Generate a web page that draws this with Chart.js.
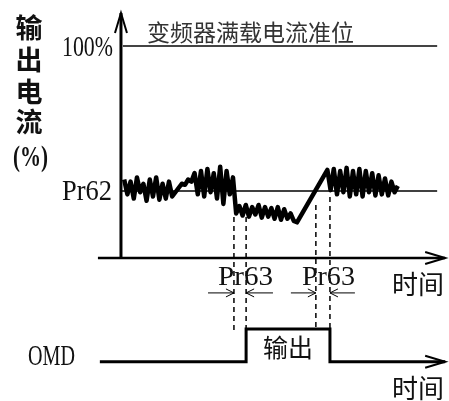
<!DOCTYPE html>
<html><head><meta charset="utf-8">
<script src="https://cdn.jsdelivr.net/npm/chart.js@4/dist/chart.umd.min.js"></script>
<style>html,body{margin:0;padding:0;background:#fff;}canvas{display:block;}</style>
</head><body>
<canvas id="c" width="449" height="401"></canvas>
<script>
// ---- data ----
const waveTime = [1,2,3,4,5,6,7,8,9,10,11,12,13,14,15,16,17,18,19,20,21,22,23,24,25,26,27,28,29,30,31,32,33,34,35,
  36,37,38,39,40,41,42,43,44,45,46,47,48,49,50,51,52,53,54,55,
  64.5,
  65.5,66.5,67.5,68.5,69.5,70.5,71.5,72.5,73.5,74.5,75.5,76.5,77.5,78.5,79.5,80.5,81.5,82.5,83.5,84.5,85.5,86.5];
const wavePct = [37,30,36,28,38,31,35,27,37,29,38,27.5,35,28,36,29,31,33,35,34.5,37,36,40,30,41,29,42,31,40,28,43,25.5,41,30,38,
  21,24.5,20,25,19.5,24,20.5,25,19,24,19.5,23.5,18.5,24,18,23,18.5,21,17.5,16.8,
  41.5,
  32,42,30,41,31,42.5,29,41,30,42,29,41,31,40,29.5,39,30,37.5,29.5,36,31,34];
const levelNames = ['100%', 'Pr62'];
const levelPct = [100, 31.6];
const levelLabelText = '变频器满载电流准位';
const eventTimes = [35.3, 39.1, 60.9, 65.3];   // detect drop, OMD on, recover, OMD off
const eventTopPct = [19.3, 19.3, 25, 28.8];
const omdTime = [-6.6, 39.1, 39.1, 65.3, 65.3, 101.3];
const omdState = [0, 0, 1, 1, 0, 0];
const yTitleChars = ['输', '出', '电', '流'];
const yUnit = '(%)';
const timeLabel = '时间';
const delayLabel = 'Pr63';
const signalName = 'OMD';
const outputText = '输出';

// ---- layout constants (in scale units) ----
const OMD_LOW = -49, OMD_HIGH = -33.5;
const AXIS_START = -7.2, AXIS_END = 101.3, Y_AXIS_TOP = 115.6;

const wavePts = waveTime.map((t, i) => ({x: t, y: wavePct[i]}));
const levelSets = levelPct.map((v, i) => ({
  data: [{x: i === 0 ? 0.6 : 0, y: v}, {x: 98.8, y: v}],
  borderColor: i === 0 ? '#444' : '#000', borderWidth: i === 0 ? 2 : 1.5,
  pointRadius: 0, order: 2
}));
const omdPts = omdTime.map((t, i) => ({x: t, y: omdState[i] ? OMD_HIGH : OMD_LOW}));

function fitText(ctx, text, x, y, font, width, align) {
  ctx.save();
  ctx.font = font;
  const w = ctx.measureText(text).width;
  const s = width / w;
  let left = align === 'right' ? x - width : (align === 'center' ? x - width / 2 : x);
  ctx.translate(left, y);
  ctx.scale(s, 1);
  ctx.textAlign = 'left';
  ctx.fillText(text, 0, 0);
  ctx.restore();
}

const diagram = {
  id: 'diagram',
  beforeDatasetsDraw(chart) {
    const ctx = chart.ctx;
    const sx = chart.scales.x, sy = chart.scales.y;
    const X = v => sx.getPixelForValue(v), Y = v => sy.getPixelForValue(v);
    const line = (x1, y1, x2, y2) => { ctx.beginPath(); ctx.moveTo(x1, y1); ctx.lineTo(x2, y2); ctx.stroke(); };
    ctx.save();
    ctx.strokeStyle = '#000'; ctx.fillStyle = '#111';
    // dashed event markers
    ctx.setLineDash([5, 4]); ctx.lineWidth = 1.5;
    eventTimes.forEach((t, i) => line(X(t), Y(eventTopPct[i]), X(t), Y(-34)));
    ctx.setLineDash([]);
    // time axis
    ctx.lineWidth = 2.5;
    line(X(AXIS_START), Y(0), X(AXIS_END), Y(0));
    // current axis
    ctx.lineWidth = 3;
    line(X(0), Y(0), X(0), Y(Y_AXIS_TOP));
    // arrowheads
    ctx.lineWidth = 2; ctx.lineJoin = 'miter';
    const headR = (xt, yt) => { ctx.beginPath(); ctx.moveTo(xt - 20, yt - 6); ctx.lineTo(xt, yt); ctx.lineTo(xt - 20, yt + 6); ctx.stroke(); };
    headR(X(AXIS_END), Y(0));
    headR(X(AXIS_END), Y(OMD_LOW));
    const xa = X(0), ya = Y(Y_AXIS_TOP);
    ctx.beginPath(); ctx.moveTo(xa - 6, ya + 20); ctx.lineTo(xa, ya); ctx.lineTo(xa + 6, ya + 20); ctx.stroke();
    // Pr63 delay arrows
    ctx.lineWidth = 1;
    const ay = Y(-16.5);
    const small = (from, to) => {
      const x1 = X(from), x2 = X(to), d = Math.sign(x2 - x1);
      line(x1, ay, x2, ay);
      ctx.beginPath(); ctx.moveTo(x2 - d * 8, ay - 4); ctx.lineTo(x2, ay); ctx.lineTo(x2 - d * 8, ay + 4); ctx.stroke();
    };
    small(eventTimes[0] - 8.1, eventTimes[0]);
    small(eventTimes[1] + 8.4, eventTimes[1]);
    small(eventTimes[2] - 7.8, eventTimes[2]);
    small(eventTimes[3] + 7.8, eventTimes[3]);

    // texts
    ctx.textBaseline = 'alphabetic';
    const serif = '30px "Liberation Serif", "DejaVu Serif", serif';
    fitText(ctx, levelNames[0], 113, 56, serif, 51, 'right');
    fitText(ctx, levelNames[1], 112, 200, serif, 50, 'right');
    fitText(ctx, delayLabel, (X(eventTimes[0]) + X(eventTimes[1])) / 2 + 5.5, 285, '27px "Liberation Serif", serif', 55, 'center');
    fitText(ctx, delayLabel, (X(eventTimes[2]) + X(eventTimes[3])) / 2 + 5.5, 285, '27px "Liberation Serif", serif', 53, 'center');
    fitText(ctx, signalName, 28, 365, '30px "Liberation Serif", serif', 47, 'left');

    const cjk = '"Noto Sans CJK SC", "Noto Sans CJK JP", sans-serif';
    ctx.textBaseline = 'middle';
    ctx.textAlign = 'center';
    ctx.fillStyle = '#111';
    ctx.font = 'bold 27px ' + cjk;
    const centers = [28, 60, 91.5, 122];
    yTitleChars.forEach((c, i) => ctx.fillText(c, 29, centers[i]));
    ctx.textBaseline = 'alphabetic';
    fitText(ctx, yUnit, 30.5, 166, 'bold 29px "Liberation Serif", serif', 35, 'center');
    ctx.textBaseline = 'middle';
    ctx.fillStyle = '#333';
    ctx.font = '23px ' + cjk;
    ctx.textAlign = 'left';
    ctx.fillText(levelLabelText, 147, 32);
    ctx.fillStyle = '#111';
    ctx.font = '26px ' + cjk;
    ctx.textAlign = 'center';
    ctx.fillText(timeLabel, 418, 284);
    ctx.fillText(timeLabel, 418, 388);
    ctx.font = '25px ' + cjk;
    ctx.fillText(outputText, (X(eventTimes[1]) + X(eventTimes[3])) / 2, 347);
    ctx.restore();
  }
};

new Chart(document.getElementById('c'), {
  type: 'line',
  data: {
    datasets: [
      {data: wavePts, borderColor: '#000', borderWidth: 4.5, pointRadius: 0, tension: 0, borderJoinStyle: 'round', order: 0},
      ...levelSets,
      {data: omdPts, borderColor: '#000', borderWidth: 3, pointRadius: 0, tension: 0, borderJoinStyle: 'miter', order: 1}
    ]
  },
  options: {
    responsive: false, animation: false, devicePixelRatio: 1,
    layout: {padding: 0},
    plugins: {legend: {display: false}, tooltip: {enabled: false}, title: {display: false}},
    scales: {
      x: {type: 'linear', min: -37.8, max: 102.5, display: false},
      y: {type: 'linear', min: -67.5, max: 121.7, display: false}
    }
  },
  plugins: [diagram]
});
</script>
</body></html>
